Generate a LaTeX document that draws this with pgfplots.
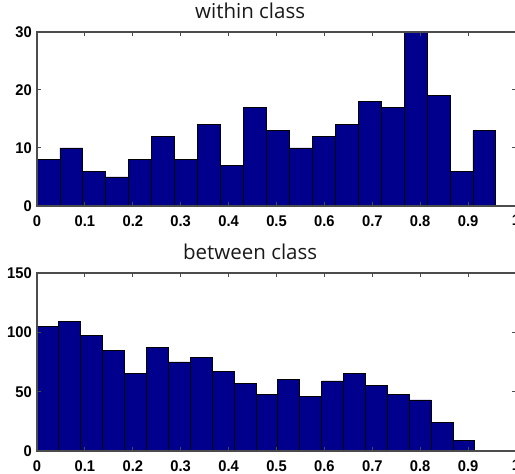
\documentclass[border=0pt]{standalone}
\usepackage{pgfplots}
\pgfplotsset{compat=1.18}
\usepackage{fontspec}
\setmainfont{Liberation Sans}
\newfontfamily\titlefont{Open Sans}
\newfontfamily\tickfont[FakeStretch=0.95]{Liberation Sans}
\definecolor{barblue}{RGB}{0,0,140}

\begin{document}
\begin{tikzpicture}[x=1pt,y=1pt]
\pgfplotsset{
  hist/.style={
    scale only axis, width=479pt, xmin=0, xmax=1, ymin=0,
    xtick={0,0.1,0.2,0.3,0.4,0.5,0.6,0.7,0.8,0.9,1},
    xticklabels={0,0.1,0.2,0.3,0.4,0.5,0.6,0.7,0.8,0.9,1},
    /pgf/number format/assume math mode=true,
    tick align=inside, tick pos=both, major tick length=4pt,
    ticklabel style={font=\tickfont\bfseries\fontsize{15.5}{15.5}\selectfont},
    xticklabel style={anchor=north, inner sep=0pt, yshift=-9pt},
    yticklabel style={anchor=east, inner sep=0pt, xshift=-5pt},
    axis line style={black!70, line width=1.2pt},
    tick style={black!70, line width=1pt},
    title style={font=\titlefont\fontsize{20.5}{20.5}\selectfont, text=black!90, at={(0.445,1)}, anchor=base, yshift=7pt},
    axis on top,
    anchor=south west,
  }
}
\begin{axis}[hist, at={(37pt,268pt)}, height=174pt, ymax=30, ytick={0,10,20,30},
  title={within class}]
\addplot[ybar interval, fill=barblue, draw=black, line width=0.8pt] coordinates {
(0.0000,8) (0.0479,10) (0.0958,6) (0.1437,5) (0.1916,8) (0.2395,12) (0.2874,8)
(0.3353,14) (0.3832,7) (0.4311,17) (0.4790,13) (0.5269,10) (0.5748,12) (0.6227,14)
(0.6706,18) (0.7185,17) (0.7664,30) (0.8143,19) (0.8622,6) (0.9101,13) (0.9580,0)
};
\end{axis}
\begin{axis}[hist, at={(37pt,23pt)}, height=178pt, ymax=150, ytick={0,50,100,150},
  title={between class}]
\addplot[ybar interval, fill=barblue, draw=black, line width=0.8pt] coordinates {
(0.0000,105) (0.0457,109) (0.0914,97) (0.1371,85) (0.1828,65) (0.2285,87) (0.2742,75)
(0.3199,79) (0.3656,67) (0.4113,57) (0.4570,48) (0.5027,60) (0.5484,46) (0.5941,59)
(0.6398,65) (0.6855,55) (0.7312,48) (0.7769,43) (0.8226,24) (0.8683,9) (0.9140,0)
};
\end{axis}
\pgfresetboundingbox
\path[use as bounding box] (0,0) rectangle (515,474);
\end{tikzpicture}
\end{document}
